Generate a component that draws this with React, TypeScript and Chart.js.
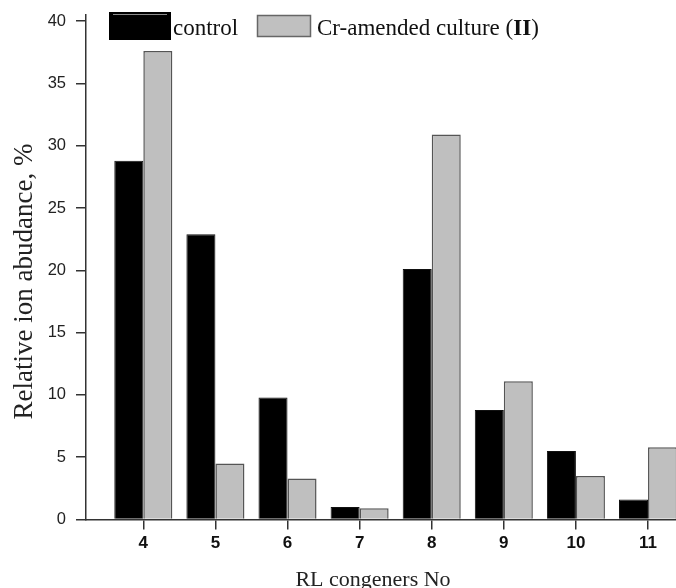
import React, { useEffect, useRef } from 'react';
import { Chart, registerables } from 'chart.js';

Chart.register(...registerables);

const categories = [4, 5, 6, 7, 8, 9, 10, 11];
const controlValues = [28.8, 22.9, 9.8, 1.0, 20.1, 8.8, 5.5, 1.6];
const crValues = [37.6, 4.5, 3.3, 0.9, 30.9, 11.1, 3.5, 5.8];
const yTickValues = [0, 5, 10, 15, 20, 25, 30, 35, 40];
const seriesLabels = ['control', 'Cr-amended culture (II)'];
const xTitle = 'RL congeners No';
const yTitle = 'Relative ion abudance, %';

const SERIF = '"Liberation Serif", "DejaVu Serif", serif';
const SANS = '"Liberation Sans", Arial, sans-serif';

const overlayPlugin = {
  id: 'overlay',
  afterDraw(chart: any) {
    const ctx = chart.ctx as CanvasRenderingContext2D;
    ctx.save();
    // legend: control
    ctx.fillStyle = '#000';
    ctx.fillRect(109, 12, 62, 28);
    ctx.strokeStyle = '#8c8c8c';
    ctx.lineWidth = 1;
    ctx.beginPath();
    ctx.moveTo(113, 14.5);
    ctx.lineTo(167, 14.5);
    ctx.stroke();
    ctx.fillStyle = '#111';
    ctx.font = `23px ${SERIF}`;
    ctx.textBaseline = 'alphabetic';
    ctx.textAlign = 'left';
    ctx.fillText(seriesLabels[0], 173, 35);
    // legend: Cr-amended
    ctx.fillStyle = '#c0c0c0';
    ctx.fillRect(257.5, 15.5, 53, 21);
    ctx.strokeStyle = '#666';
    ctx.lineWidth = 1.5;
    ctx.strokeRect(257.5, 15.5, 53, 21);
    ctx.fillStyle = '#111';
    const lab = seriesLabels[1];
    const open = lab.indexOf('(') + 1;
    const close = lab.indexOf(')');
    const p1 = lab.slice(0, open);
    const p2 = lab.slice(open, close);
    const p3 = lab.slice(close);
    let x = 317;
    ctx.font = `23px ${SERIF}`;
    ctx.fillText(p1, x, 35);
    x += ctx.measureText(p1).width;
    ctx.font = `bold 23px ${SERIF}`;
    ctx.fillText(p2, x, 35);
    x += ctx.measureText(p2).width;
    ctx.font = `23px ${SERIF}`;
    ctx.fillText(p3, x, 35);
    // x title
    ctx.font = `22px ${SERIF}`;
    ctx.textAlign = 'center';
    ctx.fillStyle = '#222';
    ctx.fillText(xTitle, 373, 586);
    // y title
    ctx.save();
    ctx.translate(31.5, 281.5);
    ctx.rotate(-Math.PI / 2);
    ctx.font = `27px ${SERIF}`;
    ctx.textAlign = 'center';
    ctx.fillText(yTitle, 0, 0);
    ctx.restore();
    ctx.restore();
  },
};

export default function App() {
  const ref = useRef<HTMLCanvasElement | null>(null);
  useEffect(() => {
    if (!ref.current) return;
    const chart = new Chart(ref.current, {
      type: 'bar',
      data: {
        datasets: [
          {
            label: seriesLabels[0],
            data: categories.map((c, i) => ({ x: c, y: controlValues[i] })),
            backgroundColor: '#000',
            borderColor: '#111',
            borderWidth: 1,
            categoryPercentage: 0.805,
            barPercentage: 1.0,
          },
          {
            label: seriesLabels[1],
            data: categories.map((c, i) => ({ x: c, y: crValues[i] })),
            backgroundColor: '#bfbfbf',
            borderColor: '#555',
            borderWidth: 1.5,
            categoryPercentage: 0.805,
            barPercentage: 1.0,
          },
        ],
      } as any,
      options: {
        animation: false,
        responsive: false,
        devicePixelRatio: 1,
        layout: { padding: { top: 15, left: 0, right: 0, bottom: 0 } },
        plugins: { legend: { display: false }, tooltip: { enabled: false } },
        scales: {
          x: {
            type: 'linear',
            min: 3.205,
            max: 11.388,
            offset: false,
            grid: {
              offset: false,
              drawOnChartArea: false,
              drawTicks: true,
              tickLength: 10,
              color: '#333',
              lineWidth: 1.5,
            },
            border: { display: true, color: '#333', width: 1.5 },
            ticks: {
              font: { family: SANS, size: 17, weight: 'bold' },
              color: '#111',
              padding: 4,
              autoSkip: false,
              maxRotation: 0,
              callback: (v: any) => String(v),
            },
            afterBuildTicks: (s: any) => {
              s.ticks = categories.map((v) => ({ value: v }));
            },
            afterFit: (s: any) => {
              s.height = 68.5;
              s.paddingLeft = 0;
              s.paddingRight = 0;
            },
          },
          y: {
            type: 'linear',
            min: 0,
            max: 40.5,
            grid: {
              drawOnChartArea: false,
              drawTicks: true,
              tickLength: 10,
              color: '#333',
              lineWidth: 1.5,
            },
            border: { display: true, color: '#333', width: 1.5 },
            ticks: {
              font: { family: SANS, size: 16.5 },
              color: '#222',
              padding: 10,
              callback: (v: any) => String(v),
            },
            afterBuildTicks: (s: any) => {
              s.ticks = yTickValues.map((v) => ({ value: v }));
            },
            afterFit: (s: any) => {
              s.width = 86;
              s.paddingTop = 0;
              s.paddingBottom = 0;
            },
          },
        },
      } as any,
      plugins: [overlayPlugin],
    });
    return () => chart.destroy();
  }, []);
  return (
    <div style={{ position: 'absolute', left: 0, top: 0, width: 676, height: 588, background: '#fff' }}>
      <canvas ref={ref} width={676} height={588} />
    </div>
  );
}
